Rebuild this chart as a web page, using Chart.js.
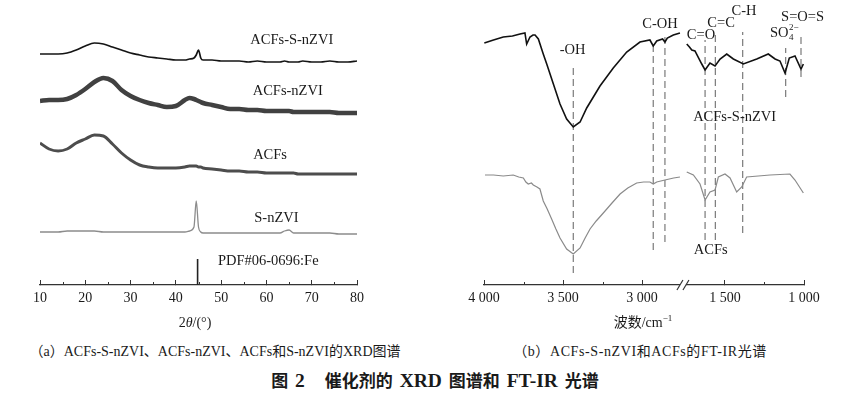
<!DOCTYPE html>
<html>
<head>
<meta charset="utf-8">
<script src="https://cdn.jsdelivr.net/npm/chart.js@4.4.1/dist/chart.umd.min.js"></script>
<style>
  body { margin: 0; background: #fff; width: 843px; height: 395px; position: relative; overflow: hidden;
         font-family: "Liberation Serif", "Times New Roman", "Noto Sans CJK SC", serif; color: #1a1a1a; }
  canvas { position: absolute; top: 0; }
  #xrd { left: 0; }
  #ftir { left: 420px; }
  .txt { position: absolute; transform: translate(-50%, -50%); white-space: nowrap; line-height: 1; font-size: 14px; }
  .title { font-weight: bold; font-size: 17px; word-spacing: 3px; font-family: "Noto Sans CJK SC", sans-serif; }
  .title .lat { font-family: "Liberation Serif", "Times New Roman", serif; font-size: 19.5px; }
  sup { font-size: 9px; vertical-align: 6px; }
</style>
</head>
<body>
<canvas id="xrd" width="420" height="335"></canvas>
<canvas id="ftir" width="423" height="335"></canvas>

<div class="txt" style="left:195px;top:323px">2<i>θ</i>/(°)</div>
<div class="txt" style="left:643px;top:322px">波数/cm<sup>−1</sup></div>
<div class="txt" style="left:215px;top:352px">（a）ACFs-S-nZVI、ACFs-nZVI、ACFs和S-nZVI的XRD图谱</div>
<div class="txt" style="left:640px;top:352px;letter-spacing:0.6px">（b）ACFs-S-nZVI和ACFs的FT-IR光谱</div>
<div class="txt title" style="left:435px;top:381px">图 <span class="lat">2</span><span style="display:inline-block;width:20px"></span>催化剂的 <span class="lat">XRD</span> 图谱和 <span class="lat">FT-IR</span> 光谱</div>

<script>
// ---- (a) XRD ----
const xrdAngles = [10,12,14,16,18,20,22,24,26,28,30,32,34,36,38,40,42,
  43,44,44.5,45,45.5,46, 48,50,52,54,56,58,60,62, 63,64,65,66,67,68, 70,72,74,76,78,80];
const xrdAcfsSnzvi = [231,231,231,232,235,239,242,241,238,235,232,230,228,227,226,225,225,
  226,227,230,235,227,225, 225,224,224,224,223,224,223,223, 223,224,223,223,223,224, 223,223,224,223,223,224];
const xrdAcfsNzvi = [184,185,185,186,190,196,203,207,204,195,189,185,182,180,178,179,185,
  187,186,185,184,183,182, 180,178,176,176,175,175,174,174, 174,174,174,173,173,173, 173,173,173,172,172,172];
const xrdAcfs = [142,136,134,136,142,146,150,149,141,132,125,120,118,117,117,117,118,
  119,119,119,118,118,117, 116,115,114,114,113,113,112,112, 112,112,112,112,111,111, 111,111,111,111,111,111];
const xrdSnzvi = [53,53,53,54,54,54,54,53,53,53,53,53,53,53,53,53,53,
  54,58,84,58,53,52, 52,52,52,52,52,52,52,52, 52,54,55,52,52,52, 52,52,52,51,51,51];
const pdfAngle = 44.8;
const pdfHeight = 26;
const xrdMajorTicks = [10,20,30,40,50,60,70,80];
const xrdMinorTicks = [15,25,35,45,55,65,75];

// ---- (b) FT-IR ----
const irBlackWn = [3998,3940,3878,3820,3772,3741,3730,3709,3690,3677,3656,3625,3603,3561,3519,3477,3435,3392,3350,3266,3182,3097,3013,2950,2929,2907,2870,2855,2840,2802,2760,
  1742,1725,1710,1690,1647,1626,1595,1563,1531,1489,1447,1384,1299,1226,1183,1152,1120,1093,1057,1019,1004];
const irBlackT = [242,245,248,249,251,252,241,248,250,250,246,231,221,201,181,166,158,163,177,199,217,233,243,245,239,244,246,243,247,250,252,
  241,238,235,234,221,215,222,219,226,231,226,221,226,231,226,224,212,227,229,216,221];
const irGrayWn = [3994,3940,3878,3815,3780,3751,3735,3720,3700,3688,3665,3646,3625,3600,3572,3545,3519,3477,3435,3392,3360,3329,3290,3245,3190,3139,3090,3034,2990,2950,2929,2907,2855,2800,2760,
  1742,1700,1658,1626,1595,1563,1542,1500,1468,1426,1394,1363,1215,1089,1057,1004];
const irGrayT = [110,110,109,110,108,107,103,101,102,100,98,96,84,76,66,56,47,36,31,37,47,56,64,72,82,91,97,102,103,103,101,103,105,107,108,
  113,110,101,85,93,95,108,111,107,93,98,108,110,111,105,92];
const markerWn = [3435,2929,2855,1626,1561,1388,1116,1019];
const markerTop = [221,242,250,245,252,253,237,252];
const markerBottom = [12,35,43,45,45,52,188,208];
const irMajorWn = [4000,3500,3000,1500,1000];
const irMinorWn = [3750,3250,1250];

// broken axis: 4000-2750 then 1750-1000 on one pixel scale
const BREAK_U = 1259;
function toU(w) { return w >= 2000 ? 4000 - w : 3025 - w; }
function fromU(u) { return u <= BREAK_U ? 4000 - u : 3025 - u; }
function fmtWn(w) { return String(Math.round(w)).replace(/\B(?=(\d{3})+(?!\d))/g, ' '); }

function irPoints(wns, vals) {
  const pts = [];
  wns.forEach((w, i) => {
    if (i > 0 && wns[i - 1] >= 2000 && w < 2000) pts.push({ x: BREAK_U, y: null });
    pts.push({ x: toU(w), y: vals[i] });
  });
  return pts;
}

const FONT = '"Liberation Serif", "Times New Roman", serif';
const INK = '#1a1a1a';

const textPlugin = {
  id: 'textLabels',
  afterDatasetsDraw(chart, args, opts) {
    const { ctx, scales } = chart;
    ctx.save();
    ctx.fillStyle = INK;
    ctx.textBaseline = 'middle';
    (opts.items || []).forEach(it => {
      const px = scales.x.getPixelForValue(it.x);
      const py = scales.y.getPixelForValue(it.y);
      ctx.font = '14.5px ' + FONT;
      if (it.sub) {
        ctx.textAlign = 'left';
        ctx.fillText(it.text, px, py);
        const w = ctx.measureText(it.text).width;
        ctx.font = '9px ' + FONT;
        ctx.fillText(it.sup, px + w + 0.5, py - 5);
        ctx.fillText(it.sub, px + w + 0.5, py + 5);
      } else {
        ctx.textAlign = 'center';
        ctx.fillText(it.text, px, py);
      }
    });
    ctx.restore();
  }
};

const minorTickPlugin = {
  id: 'minorTicks',
  afterDraw(chart, args, opts) {
    const { ctx, scales, chartArea } = chart;
    ctx.save();
    ctx.strokeStyle = '#333';
    ctx.lineWidth = 1;
    (opts.values || []).forEach(v => {
      const px = Math.round(scales.x.getPixelForValue(v)) + 0.5;
      ctx.beginPath();
      ctx.moveTo(px, chartArea.bottom);
      ctx.lineTo(px, chartArea.bottom - 3);
      ctx.stroke();
    });
    if (opts.breakAt !== undefined) {
      const bx = scales.x.getPixelForValue(opts.breakAt);
      const by = chartArea.bottom;
      ctx.fillStyle = '#fff';
      ctx.fillRect(bx - 3, by - 2, 6, 4);
      ctx.lineWidth = 1.2;
      [-3, 3].forEach(d => {
        ctx.beginPath();
        ctx.moveTo(bx + d - 3, by + 5);
        ctx.lineTo(bx + d + 3, by - 5);
        ctx.stroke();
      });
    }
    ctx.restore();
  }
};

function xAxis(extra) {
  return Object.assign({
    type: 'linear',
    grid: { drawOnChartArea: false, drawTicks: true, tickLength: -5, color: '#333', lineWidth: 1 },
    border: { display: true, color: '#333', width: 1.2 },
    ticks: { color: INK, font: { family: FONT, size: 14 }, padding: 10, maxRotation: 0, autoSkip: false },
    afterFit(s) { s.height = 50; }
  }, extra);
}

const hiddenY = { display: false, min: 0, max: 285 };

new Chart(document.getElementById('xrd'), {
  type: 'line',
  data: {
    datasets: [
      { data: xrdAngles.map((a, i) => ({ x: a, y: xrdAcfsSnzvi[i] })), borderColor: '#141414', borderWidth: 1.7 },
      { data: xrdAngles.map((a, i) => ({ x: a, y: xrdAcfsNzvi[i] })), borderColor: '#414141', borderWidth: 4.5 },
      { data: xrdAngles.map((a, i) => ({ x: a, y: xrdAcfs[i] })), borderColor: '#4d4d4d', borderWidth: 3 },
      { data: xrdAngles.map((a, i) => ({ x: a, y: xrdSnzvi[i] })), borderColor: '#8c8c8c', borderWidth: 1.3 },
      { data: [{ x: pdfAngle, y: 0 }, { x: pdfAngle, y: pdfHeight }], borderColor: '#222', borderWidth: 1.6, cubicInterpolationMode: 'default' }
    ]
  },
  options: {
    responsive: false,
    animation: false,
    devicePixelRatio: 1,
    events: [],
    layout: { padding: { left: 40, right: 63, top: 0, bottom: 0 } },
    elements: { point: { radius: 0 }, line: { cubicInterpolationMode: 'monotone' } },
    scales: {
      x: xAxis({ min: 10, max: 80, afterBuildTicks(s) { s.ticks = xrdMajorTicks.map(v => ({ value: v })); } }),
      y: hiddenY
    },
    plugins: {
      legend: { display: false },
      tooltip: { enabled: false },
      minorTicks: { values: xrdMinorTicks },
      textLabels: { items: [
        { text: 'ACFs-S-nZVI', x: 65.6, y: 245 },
        { text: 'ACFs-nZVI', x: 64.7, y: 194 },
        { text: 'ACFs', x: 60.8, y: 130 },
        { text: 'S-nZVI', x: 62.2, y: 67 },
        { text: 'PDF#06-0696:Fe', x: 60.4, y: 24 }
      ] }
    }
  },
  plugins: [textPlugin, minorTickPlugin]
});

const markerSets = markerWn.map((w, i) => ({
  data: [{ x: toU(w), y: markerBottom[i] }, { x: toU(w), y: markerTop[i] }],
  borderColor: '#7a7a7a', borderWidth: 1.2, borderDash: [7, 4]
}));

new Chart(document.getElementById('ftir'), {
  type: 'line',
  data: {
    datasets: [
      { data: irPoints(irBlackWn, irBlackT), borderColor: '#111', borderWidth: 1.6 },
      { data: irPoints(irGrayWn, irGrayT), borderColor: '#8a8a8a', borderWidth: 1.2 },
      ...markerSets
    ]
  },
  options: {
    responsive: false,
    animation: false,
    devicePixelRatio: 1,
    events: [],
    spanGaps: false,
    layout: { padding: { left: 64, right: 39, top: 0, bottom: 0 } },
    elements: { point: { radius: 0 }, line: { tension: 0 } },
    scales: {
      x: xAxis({
        min: 0, max: 2025,
        afterBuildTicks(s) { s.ticks = irMajorWn.map(w => ({ value: toU(w) })); },
        ticks: { color: INK, font: { family: FONT, size: 14 }, padding: 10, maxRotation: 0, autoSkip: false,
                 callback: v => fmtWn(fromU(v)) }
      }),
      y: hiddenY
    },
    plugins: {
      legend: { display: false },
      tooltip: { enabled: false },
      minorTicks: { values: irMinorWn.map(toU), breakAt: BREAK_U },
      textLabels: { items: [
        { text: '-OH', x: toU(3439), y: 235 },
        { text: 'C-OH', x: toU(2886), y: 261 },
        { text: 'C=O', x: toU(1652), y: 250 },
        { text: 'C=C', x: toU(1525), y: 262 },
        { text: 'C-H', x: toU(1380), y: 274 },
        { text: 'SO', sub: '4', sup: '2−', x: toU(1215), y: 252 },
        { text: 'S=O=S', x: toU(1009), y: 268 },
        { text: 'ACFs-S-nZVI', x: toU(1439), y: 168 },
        { text: 'ACFs', x: toU(1590), y: 35 }
      ] }
    }
  },
  plugins: [textPlugin, minorTickPlugin]
});
</script>
</body>
</html>
